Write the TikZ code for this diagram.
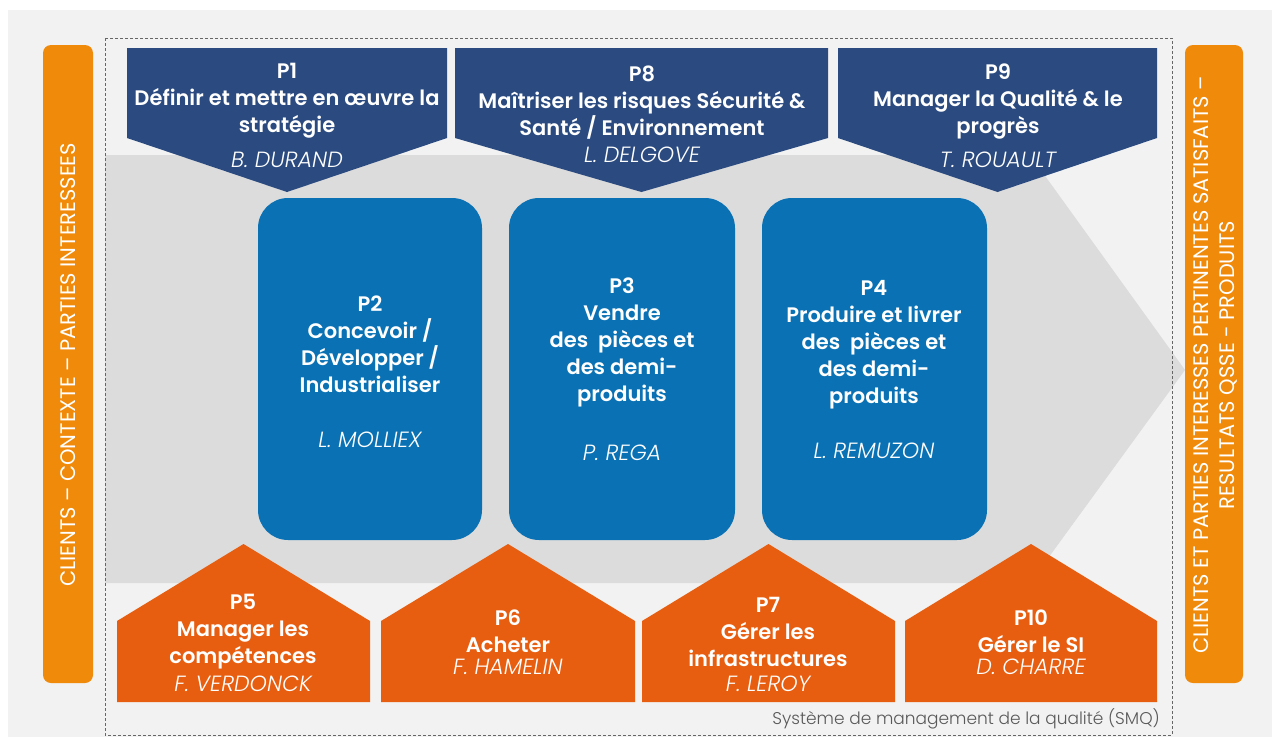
\documentclass[tikz,border=0pt]{standalone}
\usepackage{fontspec}
\setmainfont{Poppins}[BoldFont={* SemiBold},ItalicFont={* Light Italic}]
\newfontfamily\lightfont{Poppins Light}
\newfontfamily\mediumfont{Poppins Medium}
\definecolor{pageGrey}{HTML}{F2F2F2}
\definecolor{flowGrey}{HTML}{DCDCDC}
\definecolor{navy}{HTML}{2B4B80}
\definecolor{procBlue}{HTML}{0A72B4}
\definecolor{supOrange}{HTML}{E85E10}
\definecolor{barOrange}{HTML}{F08A0B}

\begin{document}
\begin{tikzpicture}[x=1pt,y=-1pt,% pixel grid, y going down
	every node/.style={
		align=center,		% so that "\\" breaks lines
		text=white,
		inner sep=0pt
		},
	title/.style={font=\fontsize{21}{27}\selectfont\bfseries},
	person/.style={font=\fontsize{22}{26}\selectfont\itshape},
	bartext/.style={font=\mediumfont,rotate=90},
	pilote/.style={fill=navy},
	support/.style={fill=supOrange},
	metier/.style={fill=procBlue,rounded corners=30pt}
	]
	\useasboundingbox (0,0) rectangle (1278,737);
	\fill[pageGrey] (8,10) rectangle (1272,737);
	% big flow arrow behind the core processes
	\fill[flowGrey] (105,155) -- (1030,155) -- (1185,370) -- (1030,583) -- (105,583) -- cycle;
	\draw[densely dashed,line width=0.8pt,black!60] (105,38) rectangle (1172,735);
	% side bars
	\fill[barOrange,rounded corners=8pt] (43,45) rectangle (93,683);
	\fill[barOrange,rounded corners=8pt] (1185,45) rectangle (1243,683);
	\node[bartext,font=\fontsize{21}{24}\selectfont] (lbar) at (68,365) {CLIENTS – CONTEXTE – PARTIES INTERESSEES};
	\node[bartext,font=\fontsize{21}{26}\selectfont] (rbar1) at (1201,365) {CLIENTS ET PARTIES INTERESSES PERTINENTES SATISFAITS –};
	\node[bartext,font=\fontsize{21}{26}\selectfont] (rbar2) at (1228,365) {RESULTATS QSSE - PRODUITS};
	% pilotage processes
	\foreach \l/\r in {127/447,455/828,838/1157}
		\fill[pilote] (\l,48) -- (\r,48) -- (\r,138) -- ({(\l+\r)/2},192) -- (\l,138) -- cycle;
	% core processes
	\foreach \l/\r in {258/482,509/735,762/987}
		\fill[metier] (\l,198) rectangle (\r,540);
	% support processes
	\foreach \l/\r in {117/370,381/635,642/895,905/1157}
		\fill[support] (\l,702) -- (\l,621) -- ({(\l+\r)/2},544) -- (\r,621) -- (\r,702) -- cycle;

	\node[title] (p1) at (287,101) {P1\\D\'efinir et mettre en \oe uvre la\\strat\'egie};
	\node[person] (p1n) at (287,160) {B. DURAND};
	\node[title] (p8) at (642,103) {P8\\Ma\^itriser les risques S\'ecurit\'e \&\\Sant\'e / Environnement};
	\node[person] (p8n) at (642,155) {L. DELGOVE};
	\node[title] (p9) at (998,102) {P9\\Manager la Qualit\'e \& le\\progr\`es};
	\node[person] (p9n) at (998,160) {T. ROUAULT};

	\node[title] (p2) at (370,344) {P2\\Concevoir /\\D\'evelopper /\\Industrialiser};
	\node[person] (p2n) at (370,440) {L. MOLLIEX};
	\node[title] (p3) at (622,342) {P3\\Vendre\\des\ \ pi\`eces et\\des demi-\\produits};
	\node[person] (p3n) at (622,453) {P. REGA};
	\node[title] (p4) at (874,345) {P4\\Produire et livrer\\des\ \ pi\`eces et\\des demi-\\produits};
	\node[person] (p4n) at (874,451) {L. REMUZON};

	\node[title] (p5) at (243,632) {P5\\Manager les\\comp\'etences};
	\node[person] (p5n) at (243,684) {F. VERDONCK};
	\node[title] (p6) at (508,631) {P6\\Acheter};
	\node[person] (p6n) at (508,667) {F. HAMELIN};
	\node[title] (p7) at (768,632) {P7\\G\'erer les\\infrastructures};
	\node[person] (p7n) at (768,684) {F. LEROY};
	\node[title] (p10) at (1031,631) {P10\\G\'erer le SI};
	\node[person] (p10n) at (1031,667) {D. CHARRE};

	\node[font=\fontsize{17}{20}\selectfont\lightfont,text=black!65,anchor=east] (smq) at (1160,719) {Syst\`eme de management de la qualit\'e (SMQ)};
\end{tikzpicture}
\end{document}
